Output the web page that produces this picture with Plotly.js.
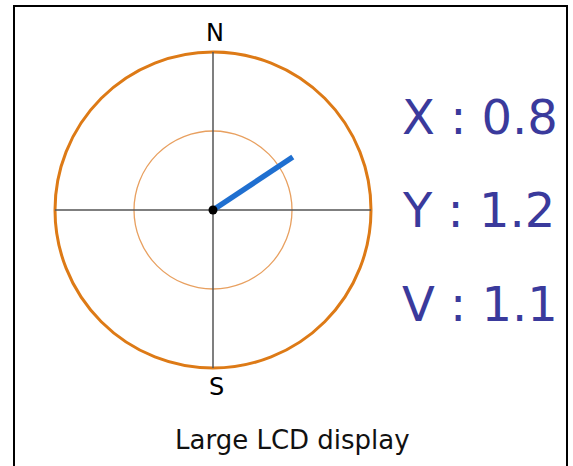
<!DOCTYPE html>
<html>
<head>
<meta charset="utf-8">
<script src="https://cdn.plot.ly/plotly-3.0.1.min.js"></script>
<style>html,body{margin:0;padding:0;background:#fff;}#chart{width:573px;height:466px;}</style>
</head>
<body>
<div id="chart"></div>
<script>
// Data
const ringRadii = [2, 1];               // outer and inner compass rings
const crossHalfLength = 2;              // cross-hair half length
const needleStart = [0, 0];
const needleEnd = [1.01, 0.67];         // needle tip (x, y)
const compassLabels = ["N", "S"];
const compassLabelX = [0.02, 0.05];
const compassLabelY = [2.24, -2.24];
const readoutNames = ["X", "Y", "V"];
const readoutValues = ["0.8", "1.2", "1.1"];
const caption = "Large LCD display";

const W = 573, H = 466, cx = 213, cy = 210, pxPerUnit = 79;
const FONT = "DejaVu Sans, Liberation Sans, Arial, sans-serif";

const traces = [
  { x: [-crossHalfLength, crossHalfLength], y: [0, 0], mode: "lines",
    line: { color: "#555555", width: 1.5 }, hoverinfo: "skip" },
  { x: [0, 0], y: [-crossHalfLength, crossHalfLength], mode: "lines",
    line: { color: "#555555", width: 1.5 }, hoverinfo: "skip" },
  { x: [needleStart[0], needleEnd[0]], y: [needleStart[1], needleEnd[1]], mode: "lines",
    line: { color: "#1f6fd0", width: 5.5 }, hoverinfo: "skip" },
  { x: [needleStart[0]], y: [needleStart[1]], mode: "markers",
    marker: { color: "#000000", size: 9 }, hoverinfo: "skip" }
];

const shapes = ringRadii.map((r, i) => ({
  type: "circle", xref: "x", yref: "y",
  x0: -r, x1: r, y0: -r, y1: r,
  line: { color: i === 0 ? "#dd7a16" : "#e8a060", width: i === 0 ? 3 : 1.3 },
  layer: "below"
}));
shapes.push({
  type: "rect", xref: "paper", yref: "paper",
  x0: 14 / W, x1: 567 / W, y0: -0.05, y1: 1 - 6 / H,
  line: { color: "#000000", width: 2 }
});

const annotations = [];
compassLabels.forEach((t, i) => annotations.push({
  text: t, x: compassLabelX[i], y: compassLabelY[i], xref: "x", yref: "y",
  showarrow: false, font: { family: FONT, size: 24, color: "#000" }
}));
const rowY = [117, 210, 304];
readoutNames.forEach((n, i) => annotations.push({
  text: n + " : " + readoutValues[i], xref: "paper", yref: "paper",
  x: 400 / W, y: 1 - rowY[i] / H, xanchor: "left", yanchor: "middle",
  showarrow: false, font: { family: FONT, size: 48, color: "#3a3a9c" }
}));
annotations.push({
  text: caption, xref: "paper", yref: "paper", x: 292 / W, y: 1 - 440 / H,
  xanchor: "center", yanchor: "middle", showarrow: false,
  font: { family: FONT, size: 26, color: "#111" }
});

const layout = {
  width: W, height: H,
  margin: { l: 0, r: 0, t: 0, b: 0 },
  paper_bgcolor: "#ffffff", plot_bgcolor: "#ffffff",
  showlegend: false,
  xaxis: { range: [-cx / pxPerUnit, (W - cx) / pxPerUnit], visible: false, fixedrange: true },
  yaxis: { range: [-(H - cy) / pxPerUnit, cy / pxPerUnit], visible: false, fixedrange: true },
  shapes: shapes,
  annotations: annotations
};

Plotly.newPlot("chart", traces, layout, { staticPlot: true, displayModeBar: false });
</script>
</body>
</html>
